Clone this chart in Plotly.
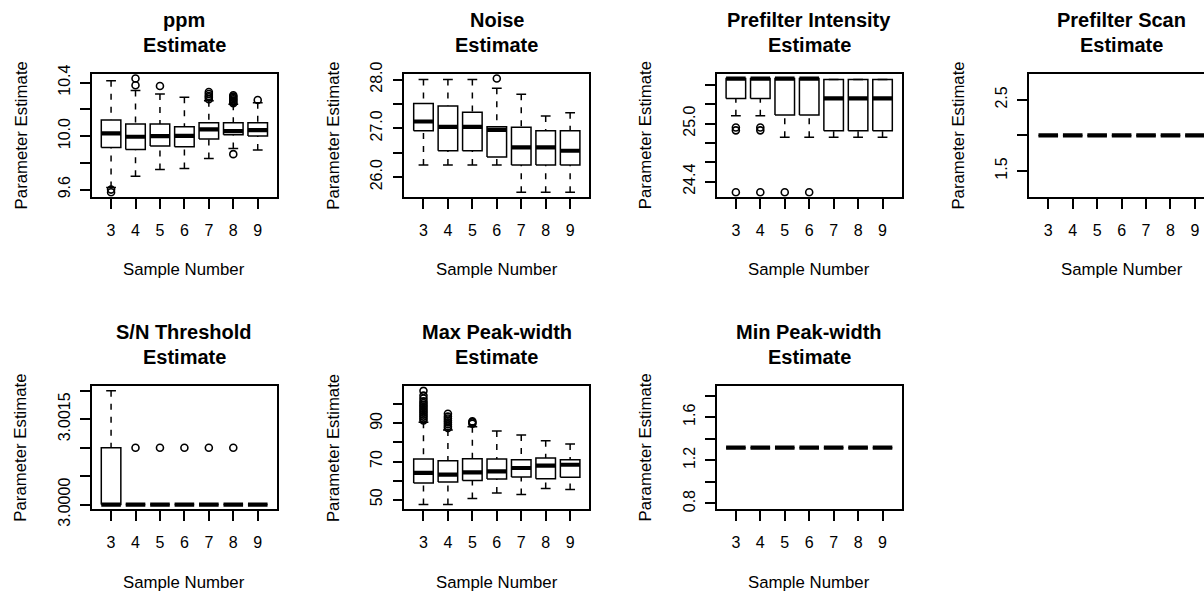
import plotly.graph_objects as go

# ---------------- data ----------------
cats = [3, 4, 5, 6, 7, 8, 9]
cat_labels = ["3", "4", "5", "6", "7", "8", "9"]

# ppm
ppm_lo = [9.616, 9.70, 9.75, 9.758, 9.833, 9.908, 9.895]
ppm_q1 = [9.915, 9.90, 9.925, 9.92, 9.978, 10.01, 10.0]
ppm_med = [10.02, 9.995, 10.0, 10.002, 10.05, 10.037, 10.045]
ppm_q3 = [10.12, 10.09, 10.09, 10.07, 10.10, 10.10, 10.10]
ppm_hi = [10.414, 10.34, 10.314, 10.29, 10.264, 10.237, 10.25]
ppm_out = [[9.60, 9.58], [10.38, 10.43], [10.374], [],
           [10.275, 10.29, 10.30, 10.315, 10.33],
           [10.245, 10.255, 10.265, 10.275, 10.285, 10.295, 10.305, 9.865],
           [10.27]]
ppm_ticks = [9.6, 9.8, 10.0, 10.2, 10.4]
ppm_ticktext = ["9.6", "", "10.0", "", "10.4"]

# Noise
noise_lo = [26.25, 26.25, 26.25, 26.25, 25.69, 25.69, 25.69]
noise_q1 = [26.95, 26.54, 26.54, 26.41, 26.25, 26.25, 26.25]
noise_med = [27.14, 27.03, 27.03, 26.97, 26.61, 26.61, 26.54]
noise_q3 = [27.51, 27.46, 27.33, 27.03, 27.02, 26.95, 26.95]
noise_hi = [28.0, 28.0, 28.0, 27.82, 27.7, 27.25, 27.32]
noise_out = [[], [], [], [28.02], [], [], []]
noise_ticks = [26.0, 26.5, 27.0, 27.5, 28.0]
noise_ticktext = ["26.0", "", "27.0", "", "28.0"]

# Prefilter Intensity
pint_lo = [25.08, 25.08, 24.86, 24.86, 24.86, 24.86, 24.86]
pint_q1 = [25.26, 25.26, 25.09, 25.09, 24.925, 24.925, 24.925]
pint_med = [25.466, 25.466, 25.466, 25.466, 25.26, 25.26, 25.26]
pint_q3 = [25.466, 25.466, 25.466, 25.466, 25.456, 25.456, 25.456]
pint_hi = [25.466, 25.466, 25.466, 25.466, 25.456, 25.456, 25.456]
pint_out = [[24.96, 24.93, 24.29], [24.96, 24.93, 24.29], [24.29], [24.29], [], [], []]
pint_ticks = [24.4, 24.6, 24.8, 25.0, 25.2, 25.4]
pint_ticktext = ["24.4", "", "", "25.0", "", ""]

# Prefilter Scan
pscan_lo = [2.0, 2.0, 2.0, 2.0, 2.0, 2.0, 2.0]
pscan_q1 = [2.0, 2.0, 2.0, 2.0, 2.0, 2.0, 2.0]
pscan_med = [2.0, 2.0, 2.0, 2.0, 2.0, 2.0, 2.0]
pscan_q3 = [2.0, 2.0, 2.0, 2.0, 2.0, 2.0, 2.0]
pscan_hi = [2.0, 2.0, 2.0, 2.0, 2.0, 2.0, 2.0]
pscan_out = [[], [], [], [], [], [], []]
pscan_ticks = [1.5, 2.0, 2.5]
pscan_ticktext = ["1.5", "", "2.5"]

# S/N Threshold
sn_lo = [3.0, 3.0, 3.0, 3.0, 3.0, 3.0, 3.0]
sn_q1 = [3.0, 3.0, 3.0, 3.0, 3.0, 3.0, 3.0]
sn_med = [3.0, 3.0, 3.0, 3.0, 3.0, 3.0, 3.0]
sn_q3 = [3.001, 3.0, 3.0, 3.0, 3.0, 3.0, 3.0]
sn_hi = [3.002, 3.0, 3.0, 3.0, 3.0, 3.0, 3.0]
sn_out = [[], [3.001], [3.001], [3.001], [3.001], [3.001], []]
sn_ticks = [3.0, 3.0005, 3.001, 3.0015, 3.002]
sn_ticktext = ["3.0000", "", "", "3.0015", ""]

# Max Peak-width
maxpw_lo = [47.45, 47.45, 50.6, 53.5, 52.7, 55.8, 55.3]
maxpw_q1 = [58.75, 59.3, 60.1, 60.8, 61.9, 61.0, 61.7]
maxpw_med = [64.0, 63.1, 64.3, 64.8, 66.6, 67.8, 68.3]
maxpw_q3 = [71.25, 70.4, 71.4, 71.25, 70.9, 71.8, 70.9]
maxpw_hi = [90.5, 86.5, 88.2, 86.0, 83.9, 80.8, 79.2]
maxpw_out = [[91.5, 92.5, 93.5, 94.5, 95.5, 96.5, 97.5, 98.5, 99.5, 100.5, 101.5, 103.0, 104.5, 107.0],
             [87.5, 88.5, 89.5, 90.5, 91.5, 92.5, 93.5, 95.0],
             [89.8, 90.5, 91.0], [], [], [], []]
maxpw_ticks = [50, 60, 70, 80, 90, 100]
maxpw_ticktext = ["50", "", "70", "", "90", ""]

# Min Peak-width
minpw_lo = [1.317, 1.317, 1.317, 1.317, 1.317, 1.317, 1.317]
minpw_q1 = [1.317, 1.317, 1.317, 1.317, 1.317, 1.317, 1.317]
minpw_med = [1.317, 1.317, 1.317, 1.317, 1.317, 1.317, 1.317]
minpw_q3 = [1.317, 1.317, 1.317, 1.317, 1.317, 1.317, 1.317]
minpw_hi = [1.317, 1.317, 1.317, 1.317, 1.317, 1.317, 1.317]
minpw_out = [[], [], [], [], [], [], []]
minpw_ticks = [0.8, 1.0, 1.2, 1.4, 1.6, 1.8]
minpw_ticktext = ["0.8", "", "1.2", "", "1.6", ""]

titles = ["ppm", "Noise", "Prefilter Intensity", "Prefilter Scan",
          "S/N Threshold", "Max Peak-width", "Min Peak-width"]
subtitle = "Estimate"
x_title = "Sample Number"
y_title = "Parameter Estimate"

# ---------------- layout geometry ----------------
W, H = 1204, 592
COL_LEFT = [92.0, 404.4, 716.8, 1029.2]
PANEL_W = 184.8
ROW_TOP = [74.0, 386.3]
PANEL_H = 122.8
FONT = "Liberation Sans, Arial, Helvetica, sans-serif"
LW = 1.5

panels = [
    (titles[0], ppm_lo, ppm_q1, ppm_med, ppm_q3, ppm_hi, ppm_out, ppm_ticks, ppm_ticktext, 0, 0),
    (titles[1], noise_lo, noise_q1, noise_med, noise_q3, noise_hi, noise_out, noise_ticks, noise_ticktext, 0, 1),
    (titles[2], pint_lo, pint_q1, pint_med, pint_q3, pint_hi, pint_out, pint_ticks, pint_ticktext, 0, 2),
    (titles[3], pscan_lo, pscan_q1, pscan_med, pscan_q3, pscan_hi, pscan_out, pscan_ticks, pscan_ticktext, 0, 3),
    (titles[4], sn_lo, sn_q1, sn_med, sn_q3, sn_hi, sn_out, sn_ticks, sn_ticktext, 1, 0),
    (titles[5], maxpw_lo, maxpw_q1, maxpw_med, maxpw_q3, maxpw_hi, maxpw_out, maxpw_ticks, maxpw_ticktext, 1, 1),
    (titles[6], minpw_lo, minpw_q1, minpw_med, minpw_q3, minpw_hi, minpw_out, minpw_ticks, minpw_ticktext, 1, 2),
]


def px_x(p):
    return p / W


def px_y(p):
    return 1 - p / H


fig = go.Figure()
annotations = []
layout_axes = {}

for k, (title, lo, q1, med, q3, hi, out, ytv, ytt, row, col) in enumerate(panels, start=1):
    xref = "x" if k == 1 else f"x{k}"
    yref = "y" if k == 1 else f"y{k}"
    xkey = "xaxis" if k == 1 else f"xaxis{k}"
    ykey = "yaxis" if k == 1 else f"yaxis{k}"

    wx, wy, bx, by, mx, my, sx, sy = [], [], [], [], [], [], [], []
    ox, oy = [], []
    for i, c in enumerate(cats):
        # whiskers (dashed), drawn from the whisker end towards the box as R does
        wx += [c, c, None, c, c, None]
        wy += [hi[i], q3[i], None, lo[i], q1[i], None]
        # staples
        sx += [c - 0.2, c + 0.2, None, c - 0.2, c + 0.2, None]
        sy += [hi[i], hi[i], None, lo[i], lo[i], None]
        # box
        bx += [c - 0.4, c + 0.4, c + 0.4, c - 0.4, c - 0.4, None]
        by += [q1[i], q1[i], q3[i], q3[i], q1[i], None]
        # median
        mx += [c - 0.4, c + 0.4, None]
        my += [med[i], med[i], None]
        for v in out[i]:
            ox.append(c)
            oy.append(v)

    common = dict(xaxis=xref, yaxis=yref, showlegend=False, hoverinfo="skip", mode="lines")
    fig.add_trace(go.Scatter(x=wx, y=wy, line=dict(color="black", width=LW, dash="6px,7px"), **common))
    fig.add_trace(go.Scatter(x=sx, y=sy, line=dict(color="black", width=LW), **common))
    fig.add_trace(go.Scatter(x=bx, y=by, line=dict(color="black", width=LW), **common))
    fig.add_trace(go.Scatter(x=mx, y=my, line=dict(color="black", width=4.2), **common))
    if ox:
        fig.add_trace(go.Scatter(x=ox, y=oy, mode="markers", xaxis=xref, yaxis=yref,
                                 showlegend=False, hoverinfo="skip",
                                 marker=dict(symbol="circle-open", size=7, color="black",
                                             line=dict(width=1.6, color="black"))))

    # axis ranges like R (4% extension; zero range -> +/-40%)
    vals = list(lo) + list(hi) + [v for o in out for v in o]
    vmin, vmax = min(vals), max(vals)
    if vmax == vmin:
        d = 0.4 * abs(vmin)
        vmin, vmax = vmin - d, vmax + d
    ext = 0.04 * (vmax - vmin)
    yr = [vmin - ext, vmax + ext]
    xr0 = cats[0] - 0.5 - 0.04 * (len(cats))
    xr1 = cats[-1] + 0.5 + 0.04 * (len(cats))

    left = COL_LEFT[col]
    right_full = left + PANEL_W
    right = min(right_full, W)
    xr1_vis = xr0 + (right - left) / PANEL_W * (xr1 - xr0)
    top = ROW_TOP[row]
    bottom = top + PANEL_H

    layout_axes[xkey] = dict(
        domain=[px_x(left), px_x(right)], range=[xr0, xr1_vis], anchor=yref,
        tickmode="array", tickvals=cats, ticktext=cat_labels,
        ticks="outside", ticklen=10, tickwidth=LW, tickcolor="black",
        showline=True, mirror=True, linecolor="black", linewidth=LW,
        showgrid=False, zeroline=False, ticklabelstandoff=8, automargin=False,
        tickfont=dict(family=FONT, size=16, color="black"), fixedrange=True)
    layout_axes[ykey] = dict(
        domain=[px_y(bottom), px_y(top)], range=yr, anchor=xref,
        tickmode="array", tickvals=ytv, ticktext=ytt, tickangle=-90,
        ticks="outside", ticklen=10, tickwidth=LW, tickcolor="black",
        showline=True, mirror=(right_full <= W), linecolor="black", linewidth=LW,
        showgrid=False, zeroline=False, ticklabelstandoff=4, automargin=False,
        tickfont=dict(family=FONT, size=16, color="black"), fixedrange=True)

    cx = left + PANEL_W / 2
    annotations.append(dict(text=f"<b>{title}</b>", x=px_x(cx), y=px_y(top - 54),
                            xref="paper", yref="paper", xanchor="center", yanchor="middle",
                            showarrow=False, font=dict(family=FONT, size=20, color="black")))
    annotations.append(dict(text=f"<b>{subtitle}</b>", x=px_x(cx), y=px_y(top - 29),
                            xref="paper", yref="paper", xanchor="center", yanchor="middle",
                            showarrow=False, font=dict(family=FONT, size=20, color="black")))
    annotations.append(dict(text=x_title, x=px_x(cx), y=px_y(bottom + 73),
                            xref="paper", yref="paper", xanchor="center", yanchor="middle",
                            showarrow=False, font=dict(family=FONT, size=16.8, color="black")))
    annotations.append(dict(text=y_title, x=px_x(left - 71), y=px_y(top + PANEL_H / 2),
                            xref="paper", yref="paper", xanchor="center", yanchor="middle",
                            textangle=-90, showarrow=False,
                            font=dict(family=FONT, size=16.8, color="black")))

fig.update_layout(
    width=W, height=H, autosize=False,
    margin=dict(l=0, r=0, t=0, b=0, autoexpand=False),
    paper_bgcolor="white", plot_bgcolor="white",
    font=dict(family=FONT, color="black"),
    annotations=annotations,
    **layout_axes)

fig.write_html("out.html", config={"displayModeBar": False})
